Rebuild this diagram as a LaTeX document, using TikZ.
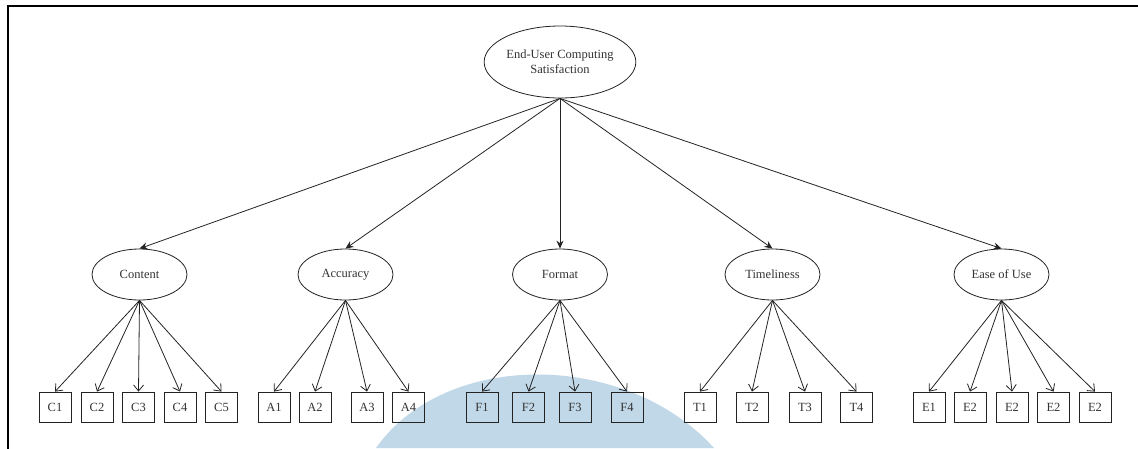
\documentclass[tikz,border=0pt]{standalone}
\usepackage{fontspec}
\setmainfont{Liberation Serif}
\usetikzlibrary{arrows.meta, shapes.geometric}
\definecolor{LightBlue}{RGB}{193,216,232}
\definecolor{LineGray}{RGB}{35,35,35}

\begin{document}
\begin{tikzpicture}[
    x=1pt, y=-1pt,
    font=\fontsize{12.5}{15}\selectfont,
    fac/.style={draw=LineGray, ellipse, line width=0.8pt, inner sep=0pt,
        minimum width=95pt, minimum height=51pt, text=black!80},
    ind/.style={draw=LineGray, line width=0.8pt, inner sep=0pt,
        minimum width=32pt, minimum height=30pt, text=black!80},
    flow/.style={-{Stealth[length=8pt, width=7pt]}, line width=0.8pt, LineGray},
    lnk/.style={-{Straight Barb[length=6pt, width=10pt]}, line width=0.8pt, LineGray},
]
\useasboundingbox (0,0) rectangle (1138,448);

% marca de agua
\fill[LightBlue] (376,448) .. controls (445,350) and (625,350) .. (714,448) -- cycle;

% marco
\draw[line width=1.8pt] (1140,6) -- (8,6) -- (8,450);

% constructo principal
\node[fac, minimum width=147pt, minimum height=72pt, align=center] (eucs)
    at (560,62) {End-User Computing\\Satisfaction};

% ================= DIMENSIONES =================
\node[fac] (cont) at (139.5,274.5) {Content};
\node[fac] (accu) at (345.5,274.5) {Accuracy};
\node[fac] (form) at (560,274.5) {Format};
\node[fac] (time) at (772.5,274.5) {Timeliness};
\node[fac] (ease) at (1001.5,274.5) {Ease of Use};

\draw[flow] (eucs.south) -- (cont.north);
\draw[flow] (eucs.south) -- (accu.north);
\draw[flow] (eucs.south) -- (form.north);
\draw[flow] (eucs.south) -- (time.north);
\draw[flow] (eucs.south) -- (ease.north);

% ================= INDICADORES =================
\node[ind] (c1) at (55,407) {C1};
\node[ind] (c2) at (97,407) {C2};
\node[ind] (c3) at (138.5,407) {C3};
\node[ind] (c4) at (180,407) {C4};
\node[ind] (c5) at (221.5,407) {C5};

\node[ind] (a1) at (274,407) {A1};
\node[ind] (a2) at (315,407) {A2};
\node[ind] (a3) at (367,407) {A3};
\node[ind] (a4) at (408.5,407) {A4};

\node[ind] (f1) at (482,407) {F1};
\node[ind] (f2) at (528.5,407) {F2};
\node[ind] (f3) at (575,407) {F3};
\node[ind] (f4) at (627,407) {F4};

\node[ind] (t1) at (700,407) {T1};
\node[ind] (t2) at (752,407) {T2};
\node[ind] (t3) at (805,407) {T3};
\node[ind] (t4) at (856.5,407) {T4};

\node[ind] (e1) at (929,407) {E1};
\node[ind] (e2) at (970,407) {E2};
\node[ind] (e3) at (1012,407) {E2};
\node[ind] (e4) at (1053.5,407) {E2};
\node[ind] (e5) at (1095,407) {E2};

\draw[lnk] (cont.south) -- (c1.north);
\draw[lnk] (cont.south) -- (c2.north);
\draw[lnk] (cont.south) -- (c3.north);
\draw[lnk] (cont.south) -- (c4.north);
\draw[lnk] (cont.south) -- (c5.north);

\draw[lnk] (accu.south) -- (a1.north);
\draw[lnk] (accu.south) -- (a2.north);
\draw[lnk] (accu.south) -- (a3.north);
\draw[lnk] (accu.south) -- (a4.north);

\draw[lnk] (form.south) -- (f1.north);
\draw[lnk] (form.south) -- (f2.north);
\draw[lnk] (form.south) -- (f3.north);
\draw[lnk] (form.south) -- (f4.north);

\draw[lnk] (time.south) -- (t1.north);
\draw[lnk] (time.south) -- (t2.north);
\draw[lnk] (time.south) -- (t3.north);
\draw[lnk] (time.south) -- (t4.north);

\draw[lnk] (ease.south) -- (e1.north);
\draw[lnk] (ease.south) -- (e2.north);
\draw[lnk] (ease.south) -- (e3.north);
\draw[lnk] (ease.south) -- (e4.north);
\draw[lnk] (ease.south) -- (e5.north);

\end{tikzpicture}
\end{document}
